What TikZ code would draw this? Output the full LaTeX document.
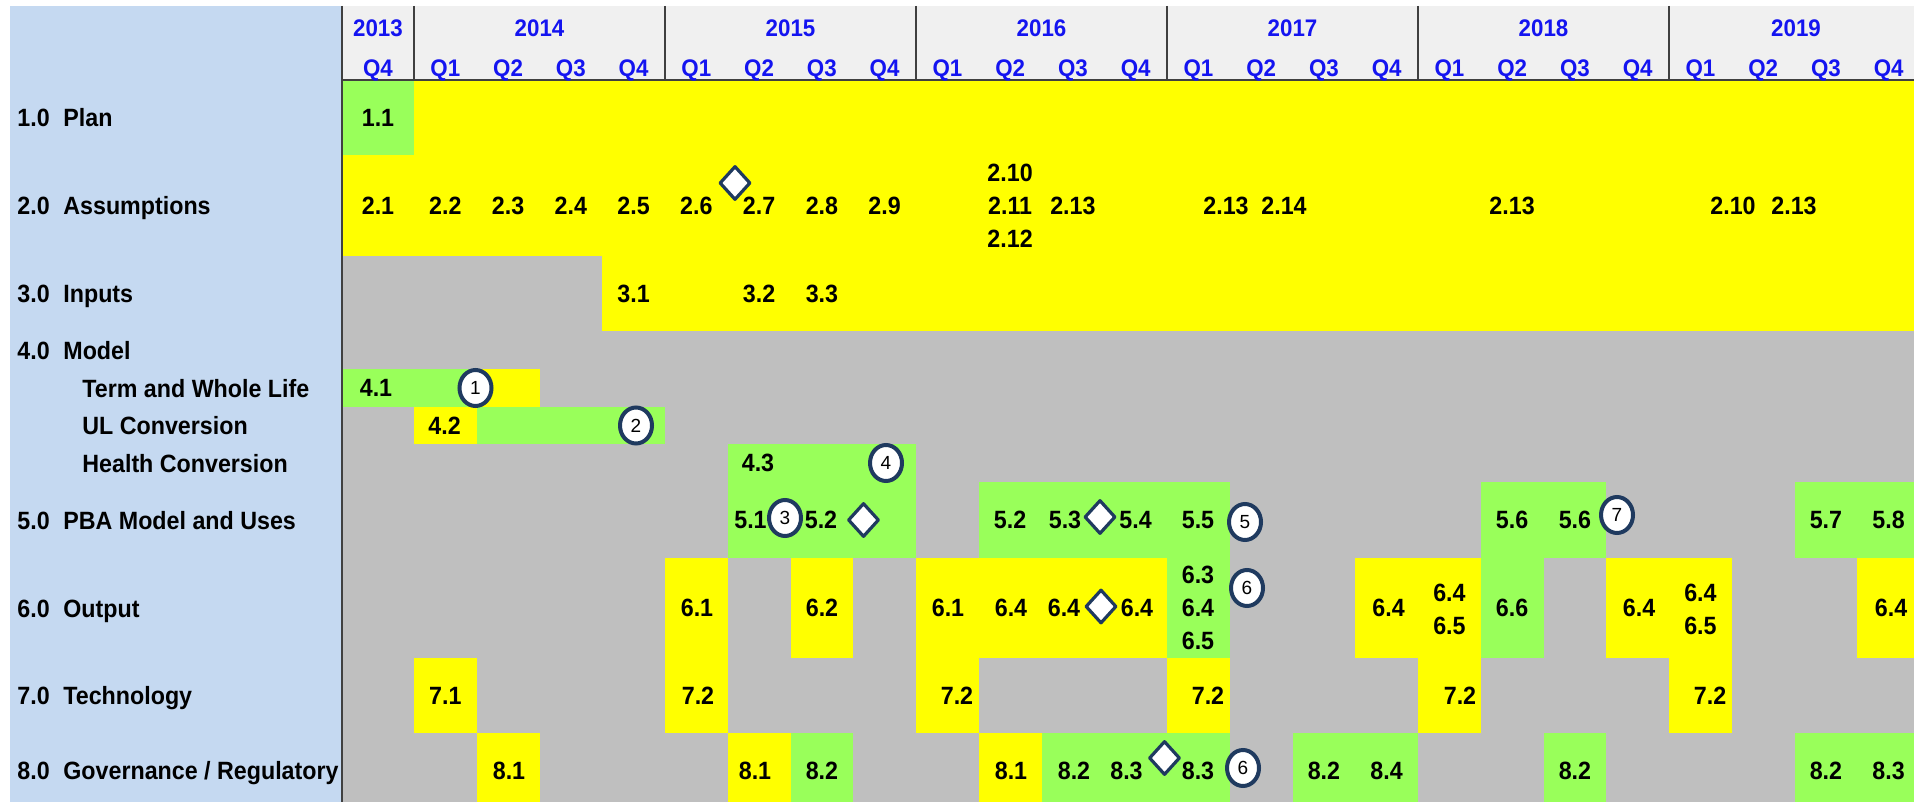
\documentclass[tikz,border=0pt]{standalone}
\usepackage{fontspec}
\setmainfont{Liberation Sans}
\newfontfamily\narrowfont{Liberation Sans}[FakeStretch=0.93]
\usetikzlibrary{shapes.geometric}
\definecolor{gbg}{HTML}{BFBFBF}
\definecolor{yel}{HTML}{FFFF00}
\definecolor{grn}{HTML}{99FF5A}
\definecolor{panel}{HTML}{C5D9F1}
\definecolor{hdr}{HTML}{F0F0F0}
\definecolor{navy}{HTML}{1F3A5F}
\definecolor{yearblue}{HTML}{1414F0}
\definecolor{rule}{HTML}{404040}
\newcommand{\cbox}[5]{%
  \pgfmathsetmacro{\xa}{ifthenelse(#1==0,342,414+(#1-1)*62.75)}%
  \pgfmathsetmacro{\xb}{min(1914,414+#2*62.75)}%
  \fill[#5] (\xa,#3) rectangle (\xb,#4);}
\begin{document}
\begin{tikzpicture}[x=0.5pt,y=-0.5pt,
  cell/.style={font=\narrowfont\fontsize{12.5}{14}\selectfont\bfseries, inner sep=0pt, text height=8.95pt, text depth=0pt, anchor=center},
  rowlab/.style={font=\narrowfont\fontsize{12.5}{14}\selectfont\bfseries, inner sep=0pt, text height=8.95pt, text depth=0pt, anchor=west},
  hdrlab/.style={font=\narrowfont\fontsize{12}{14}\selectfont\bfseries, text=yearblue, inner sep=0pt, text height=8.6pt, text depth=0pt, anchor=center},
  circ/.style={ellipse, draw=navy, line width=2pt, fill=white, minimum width=16pt, minimum height=18pt, inner sep=0pt, font=\fontsize{9.5}{10}\selectfont},
  dia/.style={diamond, draw=navy, line width=1.6pt, line join=round, fill=white, minimum width=15.5pt, minimum height=17pt, inner sep=0pt}]
\useasboundingbox (0,0) rectangle (1927,802);
\fill[white] (0,0) rectangle (1927,802);
% left panel
\fill[panel] (9.5,6) rectangle (342,802);
% header background
\fill[hdr] (342,6) rectangle (1914,80);
% grid background
\fill[gbg] (342,80) rectangle (1914,802);
% coloured cells
\cbox{0}{0}{80}{155}{grn}
\cbox{1}{24}{80}{155}{yel}
\cbox{0}{24}{155}{256}{yel}
\cbox{4}{24}{256}{331}{yel}
\cbox{0}{1}{369}{407}{grn}
\cbox{2}{2}{369}{407}{yel}
\cbox{1}{1}{407}{444}{yel}
\cbox{2}{4}{407}{444}{grn}
\cbox{6}{8}{444}{558}{grn}
\cbox{10}{13}{482}{558}{grn}
\cbox{18}{19}{482}{558}{grn}
\cbox{23}{24}{482}{558}{grn}
\cbox{5}{5}{558}{733}{yel}
\cbox{7}{7}{558}{658}{yel}
\cbox{9}{12}{558}{658}{yel}
\cbox{9}{9}{658}{733}{yel}
\cbox{13}{13}{558}{658}{grn}
\cbox{13}{13}{658}{733}{yel}
\cbox{16}{17}{558}{658}{yel}
\cbox{17}{17}{658}{733}{yel}
\cbox{18}{18}{558}{658}{grn}
\cbox{20}{21}{558}{658}{yel}
\cbox{21}{21}{658}{733}{yel}
\cbox{24}{24}{558}{658}{yel}
\cbox{1}{1}{658}{733}{yel}
\cbox{2}{2}{733}{802}{yel}
\cbox{6}{6}{733}{802}{yel}
\cbox{7}{7}{733}{802}{grn}
\cbox{10}{10}{733}{802}{yel}
\cbox{11}{13}{733}{802}{grn}
\cbox{15}{16}{733}{802}{grn}
\cbox{19}{19}{733}{802}{grn}
\cbox{23}{24}{733}{802}{grn}
% header rules
\draw[rule, line width=1pt] (342,80) -- (1914,80);
\foreach \vx in {414,665,916,1167,1418,1669} {\draw[rule, line width=1pt] (\vx,6) -- (\vx,80);}
\draw[rule, line width=1pt] (342,6) -- (342,802);
% header labels
\node[hdrlab] (y13) at (378,28) {2013};
\node[hdrlab] (y14) at (539.5,28) {2014};
\node[hdrlab] (y15) at (790.5,28) {2015};
\node[hdrlab] (y16) at (1041.5,28) {2016};
\node[hdrlab] (y17) at (1292.5,28) {2017};
\node[hdrlab] (y18) at (1543.5,28) {2018};
\node[hdrlab] (y19) at (1796,28) {2019};
\node[hdrlab] (q0) at (378,68) {Q4};
\foreach \k in {1,...,24} {
  \pgfmathsetmacro{\qx}{414+(\k-0.5)*62.75}
  \pgfmathtruncatemacro{\qn}{mod(\k-1,4)+1}
  \node[hdrlab] (q\k) at (\qx,68) {Q\qn};
}
% row labels
\node[rowlab] (n1) at (17,118) {1.0}; \node[rowlab] (r1) at (63,118) {Plan};
\node[rowlab] (n2) at (17,206) {2.0}; \node[rowlab] (r2) at (63,206) {Assumptions};
\node[rowlab] (n3) at (17,294) {3.0}; \node[rowlab] (r3) at (63,294) {Inputs};
\node[rowlab] (n4) at (17,351) {4.0}; \node[rowlab] (r4) at (63,351) {Model};
\node[rowlab] (r4a) at (82,389) {Term and Whole Life};
\node[rowlab] (r4b) at (82,426) {UL Conversion};
\node[rowlab] (r4c) at (82,464) {Health Conversion};
\node[rowlab] (n5) at (17,521) {5.0}; \node[rowlab] (r5) at (63,521) {PBA Model and Uses};
\node[rowlab] (n6) at (17,609) {6.0}; \node[rowlab] (r6) at (63,609) {Output};
\node[rowlab] (n7) at (17,696) {7.0}; \node[rowlab] (r7) at (63,696) {Technology};
\node[rowlab] (n8) at (17,771) {8.0}; \node[rowlab] (r8) at (63,771) {Governance / Regulatory};
% row 1
\node[cell] (a11) at (378,118) {1.1};
% row 2
\node[cell] (a21) at (378,206) {2.1};
\node[cell] (a22) at (445.4,206) {2.2};
\node[cell] (a23) at (508.1,206) {2.3};
\node[cell] (a24) at (570.9,206) {2.4};
\node[cell] (a25) at (633.6,206) {2.5};
\node[cell] (a26) at (696.4,206) {2.6};
\node[cell] (a27) at (759.1,206) {2.7};
\node[cell] (a28) at (821.9,206) {2.8};
\node[cell] (a29) at (884.6,206) {2.9};
\node[cell] (a210) at (1010.1,173) {2.10};
\node[cell] (a211) at (1010.1,206) {2.11};
\node[cell] (a212) at (1010.1,239) {2.12};
\node[cell] (a213a) at (1072.9,206) {2.13};
\node[cell] (a213b) at (1226,206) {2.13};
\node[cell] (a214) at (1284,206) {2.14};
\node[cell] (a213c) at (1512.1,206) {2.13};
\node[cell] (a210b) at (1733,206) {2.10};
\node[cell] (a213d) at (1794,206) {2.13};
\node[dia] (d1) at (735,183) {};
% row 3
\node[cell] (a31) at (633.6,294) {3.1};
\node[cell] (a32) at (759.1,294) {3.2};
\node[cell] (a33) at (821.9,294) {3.3};
% row 4
\node[cell] (a41) at (376,388) {4.1};
\node[circ] (m1) at (475.5,388) {1};
\node[cell] (a42) at (444.6,426) {4.2};
\node[circ] (m2) at (636,425.5) {2};
\node[cell] (a43) at (758,463) {4.3};
\node[circ] (m4) at (886,463) {4};
% row 5
\node[cell] (a51) at (750.5,520) {5.1};
\node[circ] (m3) at (785,518) {3};
\node[cell] (a52) at (821,520) {5.2};
\node[dia] (d2) at (863.5,520) {};
\node[cell] (a52b) at (1010.1,520) {5.2};
\node[cell] (a53) at (1065,520) {5.3};
\node[dia] (d3) at (1100,517) {};
\node[cell] (a54) at (1135.6,520) {5.4};
\node[cell] (a55) at (1198,520) {5.5};
\node[circ] (m5) at (1245,522) {5};
\node[cell] (a56) at (1512.1,520) {5.6};
\node[cell] (a56b) at (1574.9,520) {5.6};
\node[circ] (m7) at (1617,515) {7};
\node[cell] (a57) at (1825.9,520) {5.7};
\node[cell] (a58) at (1888.6,520) {5.8};
% row 6
\node[cell] (a61) at (697,608) {6.1};
\node[cell] (a62) at (822,608) {6.2};
\node[cell] (a61b) at (948,608) {6.1};
\node[cell] (a64a) at (1011,608) {6.4};
\node[cell] (a64b) at (1064,608) {6.4};
\node[dia] (d4) at (1101,606.5) {};
\node[cell] (a64c) at (1137,608) {6.4};
\node[cell] (a63) at (1198,575) {6.3};
\node[cell] (a64d) at (1198,608) {6.4};
\node[cell] (a65) at (1198,641) {6.5};
\node[circ] (m6a) at (1247,588) {6};
\node[cell] (a64e) at (1388.6,608) {6.4};
\node[cell] (a64f) at (1449.4,593) {6.4};
\node[cell] (a65b) at (1449.4,626) {6.5};
\node[cell] (a66) at (1512.1,608) {6.6};
\node[cell] (a64g) at (1639,608) {6.4};
\node[cell] (a64h) at (1700.4,593) {6.4};
\node[cell] (a65c) at (1700.4,626) {6.5};
\node[cell] (a64i) at (1891,608) {6.4};
% row 7
\node[cell] (a71) at (445.4,696) {7.1};
\node[cell] (a72a) at (698,696) {7.2};
\node[cell] (a72b) at (957,696) {7.2};
\node[cell] (a72c) at (1208,696) {7.2};
\node[cell] (a72d) at (1460,696) {7.2};
\node[cell] (a72e) at (1710,696) {7.2};
% row 8
\node[cell] (a81a) at (509,771) {8.1};
\node[cell] (a81b) at (755,771) {8.1};
\node[cell] (a82a) at (821.9,771) {8.2};
\node[cell] (a81c) at (1011,771) {8.1};
\node[cell] (a82b) at (1074,771) {8.2};
\node[cell] (a83a) at (1126.5,771) {8.3};
\node[dia] (d5) at (1164.5,758) {};
\node[cell] (a83b) at (1198,771) {8.3};
\node[circ] (m6b) at (1243,768) {6};
\node[cell] (a82c) at (1323.9,771) {8.2};
\node[cell] (a84) at (1386.6,771) {8.4};
\node[cell] (a82d) at (1574.9,771) {8.2};
\node[cell] (a82e) at (1825.9,771) {8.2};
\node[cell] (a83c) at (1888.6,771) {8.3};
\end{tikzpicture}
\end{document}
